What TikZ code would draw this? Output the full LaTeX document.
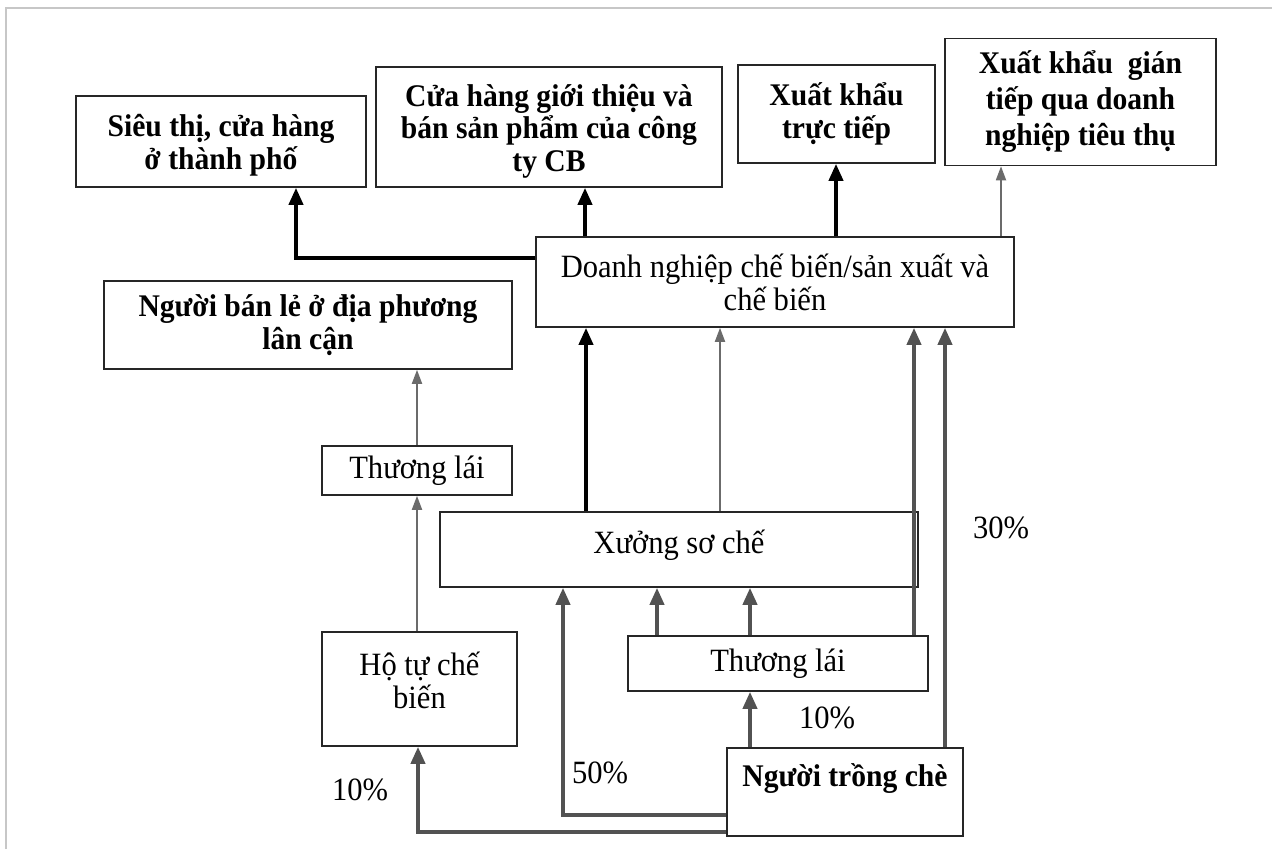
\documentclass[tikz,border=0pt]{standalone}
\usepackage{fontspec}
\setmainfont{Liberation Serif}[FakeStretch=0.94]
\usetikzlibrary{arrows.meta}
\begin{document}
\begin{tikzpicture}[x=1pt,y=-1pt,
  box/.style={draw=black!85, line width=1.6pt, fill=white, inner sep=0pt, align=center,
    font=\fontsize{32.5}{33}\selectfont},
  bbox/.style={box, font=\fontsize{31.5}{33}\selectfont\bfseries},
  txt/.style={inner sep=0pt, align=center, font=\fontsize{32.5}{33}\selectfont},
  thk/.style={line width=3.8pt, black, -{Triangle[length=17pt,width=14pt]}},
  thg/.style={line width=3.8pt, black!68, -{Triangle[length=17pt,width=14pt]}},
  thn/.style={line width=1.8pt, black!58, -{Triangle[length=14pt,width=10pt]}},
  pct/.style={inner sep=0pt, font=\fontsize{32.5}{33}\selectfont}]
\useasboundingbox (0,0) rectangle (1272,849);
\fill[white] (0,0) rectangle (1272,849);
\draw[black!22, line width=1.2pt] (6,849) -- (6,8) -- (1272,8);

% boxes
\node[box, minimum width=290pt, minimum height=91pt] (st) at (221,141.5) {};
\node[txt, font=\fontsize{31.5}{33}\selectfont\bfseries] (stt) at (221,145) {Siêu thị, cửa hàng\\ở thành phố};
\node[box, minimum width=346pt, minimum height=120pt] (ch) at (549,127) {};
\node[txt, font=\fontsize{31.5}{32.5}\selectfont\bfseries] (cht) at (549,131) {Cửa hàng giới thiệu và\\bán sản phẩm của công\\ty CB};
\node[bbox, minimum width=197pt, minimum height=98pt] (xt) at (836.5,114) {Xuất khẩu\\trực tiếp};
\node[bbox, minimum width=271pt, minimum height=127pt, font=\fontsize{31.5}{36}\selectfont\bfseries] (xg) at (1080.5,102) {Xuất khẩu~ gián\\tiếp qua doanh\\nghiệp tiêu thụ};
\node[box, minimum width=478pt, minimum height=90pt] (dn) at (775,282) {Doanh nghiệp chế biến/sản xuất và\\chế biến};
\node[bbox, minimum width=408pt, minimum height=88pt] (nbl) at (308,325) {Người bán lẻ ở địa phương\\lân cận};
\node[box, minimum width=190pt, minimum height=49pt] (tl1) at (417,470.5) {Thương lái};
\node[box, minimum width=478pt, minimum height=75pt] (xsc) at (679,549.5) {};
\node[txt] (xsct) at (679,545) {Xưởng sơ chế};
\node[box, minimum width=195pt, minimum height=114pt] (htcb) at (419.5,689) {};
\node[txt] (htcbt) at (419.5,680) {Hộ tự chế\\biến};
\node[box, minimum width=300pt, minimum height=55pt] (tl2) at (778,663.5) {Thương lái};
\node[box, minimum width=236pt, minimum height=88pt] (ntc) at (845,792) {};
\node[txt, font=\fontsize{31.5}{33}\selectfont\bfseries] (ntct) at (845,779) {Người trồng chè};

% connectors
\draw[thk] (dn.west |- 0,258) -| (st.south -| 296,0);
\draw[thk] (dn.north -| 585,0) -- (ch.south -| 585,0);
\draw[thk] (dn.north -| 836,0) -- (xt.south -| 836,0);
\draw[thn] (dn.north -| 1001,0) -- (xg.south -| 1001,0);
\draw[thn] (tl1.north) -- (nbl.south -| tl1.north);
\draw[thn] (htcb.north -| tl1.south) -- (tl1.south);
\draw[thk] (xsc.north -| 586,0) -- (dn.south -| 586,0);
\draw[thn] (xsc.north -| 720,0) -- (dn.south -| 720,0);
\draw[thg] (tl2.north -| 914,0) -- (dn.south -| 914,0);
\draw[thg] (ntc.north -| 945,0) -- (dn.south -| 945,0);
\draw[thg] (tl2.north -| 657,0) -- (xsc.south -| 657,0);
\draw[thg] (tl2.north -| 750,0) -- (xsc.south -| 750,0);
\draw[thg] (ntc.north -| 750,0) -- (tl2.south -| 750,0);
\draw[thg] (ntc.west |- 0,815) -| (xsc.south -| 563,0);
\draw[thg] (ntc.west |- 0,832) -| (htcb.south -| 418,0);

% labels
\node[pct] (p30) at (1001,528) {30\%};
\node[pct] (p10a) at (827,718) {10\%};
\node[pct] (p50) at (600,773) {50\%};
\node[pct] (p10b) at (360,790) {10\%};
\end{tikzpicture}
\end{document}
